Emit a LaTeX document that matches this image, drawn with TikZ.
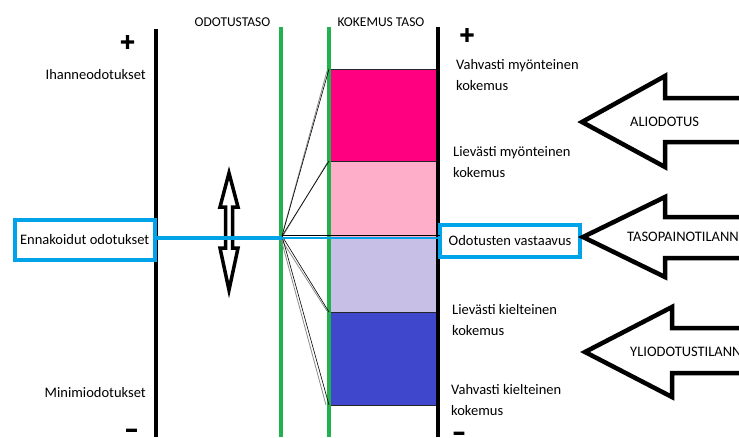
\documentclass[tikz,border=0pt]{standalone}
\usepackage{fontspec}
\setmainfont{Carlito}
\newfontfamily\signfont{Carlito}[FakeBold=6]
\definecolor{levelgreen}{RGB}{34,177,76}
\definecolor{linkcyan}{RGB}{0,162,232}
\definecolor{hotpink}{RGB}{255,0,128}
\definecolor{softrose}{RGB}{255,174,201}
\definecolor{softlavender}{RGB}{200,191,231}
\definecolor{deepindigo}{RGB}{63,72,204}
\tikzset{
  axisline/.style={line width=4},
  levelline/.style={draw=levelgreen, line width=4},
  levelbox/.style={draw=black!85, line width=0.8, inner sep=0, outer sep=0, minimum width=109},
  fanline/.style={draw=black, line width=0.6},
  fangray/.style={draw=black!45, line width=0.8},
  txt/.style={font=\fontsize{14.5}{21}\selectfont, inner sep=0},
  head/.style={font=\fontsize{13.5}{16}\selectfont, inner sep=0},
  sign/.style={font=\signfont\fontsize{26}{26}\selectfont, inner sep=0},
  expbox/.style={draw=linkcyan, line width=4, fill=white, inner sep=0, outer sep=0,
                 font=\fontsize{14.5}{17}\selectfont},
  bigarrow/.style={draw=black, line width=4.5, fill=white, line join=miter},
  updown/.style={draw=black, line width=3.5, fill=white, line join=miter},
}
\begin{document}
\begin{tikzpicture}[x=1pt, y=-1pt]
\clip (0,0) rectangle (739,437);
\fill[white] (0,0) rectangle (739,437);

% column headings
\node[head] (hexp) at (232.5,22) {ODOTUSTASO};
\node[head] (hexq) at (381,22) {KOKEMUS TASO};

% experience scale boxes
\node[levelbox, fill=hotpink, minimum height=92] (b1) at (383.5,115) {};
\node[levelbox, fill=softrose, minimum height=77] (b2) at (383.5,199.5) {};
\node[levelbox, fill=softlavender, minimum height=74] (b3) at (383.5,275) {};
\node[levelbox, fill=deepindigo, minimum height=93] (b4) at (383.5,358.5) {};

% vertical axes
\draw[axisline] (156,29) -- (156,437);
\draw[axisline] (438,27) -- (438,437);
\draw[levelline] (281,27) -- (281,437);
\draw[levelline] (329,27) -- (329,437);

% fan from the expectation point to the box edges
\coordinate (conv) at (282,236);
\coordinate (conv2) at (281,239);
\draw[fangray] (conv2) -- ([shift={(-2,2)}]b1.north west);
\draw[fangray] (conv2) -- ([shift={(-2,2)}]b2.north west);
\draw[fangray] (conv2) -- ([shift={(-2,-1)}]b3.south west);
\draw[fangray] (conv2) -- ([shift={(-3,0)}]b4.south west);
\draw[fanline] (conv) -- (b1.north west);
\draw[fanline] (conv) -- (b2.north west);
\draw[fanline] (conv) -- (b3.south west);
\draw[fanline] (conv) -- (b4.south west);

% up/down arrow on the expectation scale
\draw[updown] (229,173) -- (238,207) -- (232.5,207) -- (232.5,248) -- (238,248)
  -- (229,290) -- (220,248) -- (225.5,248) -- (225.5,207) -- (220,207) -- cycle;

% signs
\node[sign] (lplus) at (127.5,43) {+};
\node[sign] (rplus) at (467,36) {+};
\node[sign] (lminus) at (131.5,433.5) {–};
\node[sign] (rminus) at (459,436.5) {–};

% left scale labels
\node[txt, anchor=east] (ideal) at (146,75) {Ihanneodotukset};
\node[txt, anchor=east] (minimum) at (146,393) {Minimiodotukset};

% right scale labels
\node[txt, anchor=west, align=left] (e1) at (456,75.5) {Vahvasti myönteinen\\kokemus};
\node[txt, anchor=west, align=left] (e2) at (453,162) {Lievästi myönteinen\\kokemus};
\node[txt, anchor=west, align=left] (e3) at (452,320) {Lievästi kielteinen\\kokemus};
\node[txt, anchor=west, align=left] (e4) at (451,400) {Vahvasti kielteinen\\kokemus};

% highlighted boxes and the link between them
\node[expbox, minimum width=140, minimum height=40] (ennak) at (84.7,240) {Ennakoidut odotukset};
\node[expbox, minimum width=140, minimum height=32] (vast) at (510,241) {Odotusten vastaavus};
\coordinate (mid) at (282,237.5);
\draw[draw=linkcyan, line width=4] (ennak.east |- mid) -- (mid);
\draw[draw=black, line width=0.8] ([yshift=1.8]mid) -- ([yshift=1.8]vast.west |- mid);
\draw[draw=linkcyan, line width=2] (mid) -- (vast.west |- mid);

% situation arrows
\draw[bigarrow] (582,122) -- (665,76) -- (665,98) -- (760,98) -- (760,142)
  -- (665,142) -- (665,167) -- cycle;
\node[txt, anchor=west] (ali) at (630,122) {ALIODOTUS};
\draw[bigarrow] (583,237) -- (665,197) -- (665,217) -- (760,217) -- (760,258)
  -- (665,258) -- (665,277) -- cycle;
\node[txt, anchor=west] (taso) at (627,237) {TASOPAINOTILANNE};
\draw[bigarrow] (585,352) -- (672,307) -- (672,328) -- (760,328) -- (760,373)
  -- (672,373) -- (672,397) -- cycle;
\node[txt, anchor=west] (yli) at (630,352) {YLIODOTUSTILANNE};
\end{tikzpicture}
\end{document}
